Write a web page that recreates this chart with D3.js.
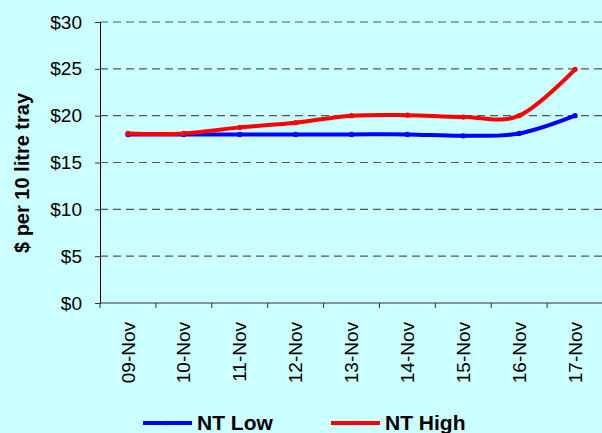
<!DOCTYPE html>
<html>
<head>
<meta charset="utf-8">
<script src="https://cdn.jsdelivr.net/npm/d3@7.9.0/dist/d3.min.js"></script>
<style>
  html, body { margin: 0; padding: 0; background: #ccffff; }
  svg { display: block; font-family: Arial, "Liberation Sans", sans-serif; }
</style>
</head>
<body>
<svg id="chart" width="602" height="433"></svg>
<script>
const dates = ['09-Nov', '10-Nov', '11-Nov', '12-Nov', '13-Nov', '14-Nov', '15-Nov', '16-Nov', '17-Nov'];
const ntLow = [18.0, 18.0, 18.0, 18.0, 18.0, 18.0, 17.85, 18.1, 20.0];
const ntHigh = [18.1, 18.1, 18.75, 19.25, 20.0, 20.05, 19.85, 20.0, 24.95];
const yTicks = [0, 5, 10, 15, 20, 25, 30];

const series = [
  { name: 'NT Low', values: ntLow, color: '#0000ff' },
  { name: 'NT High', values: ntHigh, color: '#ff0000' }
];

const svg = d3.select('#chart');
const plotLeft = 100, plotRight = 603, plotTop = 22, plotBottom = 303;

const x = d3.scaleBand().domain(dates).range([plotLeft, plotRight]);
const y = d3.scaleLinear().domain([0, 30]).range([plotBottom, plotTop]);

// gridlines
svg.append('g')
  .selectAll('line')
  .data(yTicks.filter(d => d > 0))
  .enter()
  .append('line')
  .attr('x1', plotLeft).attr('x2', 602)
  .attr('y1', d => y(d)).attr('y2', d => y(d))
  .attr('stroke', '#4a5a5a')
  .attr('stroke-width', 1.2)
  .attr('stroke-dasharray', '8,5');

// y axis
const yAxis = svg.append('g')
  .attr('transform', `translate(${plotLeft},0)`)
  .call(d3.axisLeft(y).tickValues(yTicks).tickSize(5).tickPadding(13).tickFormat(d => '$' + d));
yAxis.select('.domain').attr('stroke', '#000');
yAxis.selectAll('.tick line').attr('stroke', '#333');
yAxis.selectAll('text').attr('font-size', 19).attr('fill', '#000');

// x axis, ticks on category boundaries
svg.append('line')
  .attr('x1', plotLeft).attr('x2', 602)
  .attr('y1', plotBottom).attr('y2', plotBottom)
  .attr('stroke', '#333');
svg.append('g')
  .selectAll('line')
  .data(dates)
  .enter()
  .append('line')
  .attr('x1', d => x(d)).attr('x2', d => x(d))
  .attr('y1', plotBottom).attr('y2', plotBottom + 5)
  .attr('stroke', '#333');
svg.append('g')
  .selectAll('text')
  .data(dates)
  .enter()
  .append('text')
  .attr('transform', d => `translate(${x(d) + x.bandwidth() / 2},${plotBottom + 19}) rotate(-90)`)
  .attr('text-anchor', 'end')
  .attr('dy', '0.35em')
  .attr('font-size', 19)
  .text(d => d);

// y title
svg.append('text')
  .attr('transform', `translate(22,173) rotate(-90)`)
  .attr('text-anchor', 'middle')
  .attr('dy', '0.35em')
  .attr('font-size', 20)
  .attr('font-weight', 'bold')
  .text('$ per 10 litre tray');

// lines
const line = d3.line()
  .x((d, i) => x(dates[i]) + x.bandwidth() / 2)
  .y(d => y(d))
  .curve(d3.curveCatmullRom.alpha(0));

series.forEach(s => {
  svg.append('path')
    .attr('d', line(s.values))
    .attr('fill', 'none')
    .attr('stroke', s.color)
    .attr('stroke-width', 4)
    .attr('stroke-linejoin', 'round');
  svg.append('g')
    .selectAll('circle')
    .data(s.values)
    .enter()
    .append('circle')
    .attr('cx', (d, i) => x(dates[i]) + x.bandwidth() / 2)
    .attr('cy', d => y(d))
    .attr('r', 2.6)
    .attr('fill', s.color);
});

// legend
const legendX = [143, 331];
series.forEach((s, i) => {
  const g = svg.append('g').attr('transform', `translate(${legendX[i]},423)`);
  g.append('line')
    .attr('x1', 0).attr('x2', 49)
    .attr('stroke', s.color)
    .attr('stroke-width', 4);
  g.append('circle').attr('cx', 24.5).attr('r', 2.2).attr('fill', s.color);
  g.append('text')
    .attr('x', 54)
    .attr('dy', '0.35em')
    .attr('font-size', 21)
    .attr('font-weight', 'bold')
    .text(s.name);
});
</script>
</body>
</html>
